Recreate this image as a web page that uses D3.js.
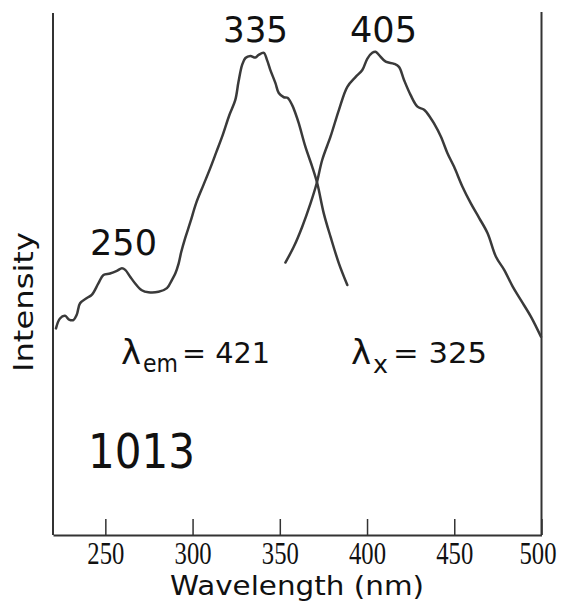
<!DOCTYPE html>
<html>
<head>
<meta charset="utf-8">
<script src="https://cdn.jsdelivr.net/npm/d3@7"></script>
<style>
  body { margin: 0; background: #fff; }
  svg { display: block; }
</style>
</head>
<body>
<div id="chart"></div>
<script>
// excitation spectrum (left curve), wavelength in nm and relative intensity
var exWave = [221.7, 224.0, 226.9, 229.2, 231.7, 233.6, 235.5, 239.4, 242.2, 246.0,
  248.9, 252.7, 256.6, 259.5, 261.4, 264.2, 267.1, 270.9, 274.7, 280.5,
  285.3, 288.2, 290.1, 292.0, 293.5, 295.8, 298.7, 302.1, 306.2, 310.2,
  313.6, 317.1, 321.1, 324.5, 326.3, 328.4, 330.3, 333.1, 336.0, 337.9,
  340.8, 342.7, 344.6, 347.5, 349.4, 352.3, 354.4, 357.1, 359.0, 360.9,
  364.7, 368.6, 371.5, 375.2, 379.1, 383.9, 388.7]
var exInt = [39.5, 41.4, 41.9, 41.2, 41.1, 42.1, 44.3, 45.3, 45.9, 48.1,
  49.7, 50.0, 50.5, 51.0, 50.7, 49.4, 48.1, 46.8, 46.4, 46.5,
  47.2, 48.8, 50.0, 51.9, 54.1, 56.8, 59.8, 63.5, 66.9, 70.2,
  73.2, 76.3, 80.3, 83.2, 86.6, 89.9, 91.2, 91.6, 91.3, 91.8,
  92.2, 90.8, 88.9, 86.4, 84.5, 83.7, 83.6, 82.2, 80.6, 78.7,
  74.2, 70.4, 67.2, 61.5, 57.0, 51.9, 47.8]

// emission spectrum (right curve)
var emWave = [353.2, 358.0, 362.8, 367.6, 371.1, 374.3, 379.1, 383.9, 388.7, 393.5,
  397.3, 400.2, 403.0, 404.9, 406.8, 410.7, 415.5, 418.3, 421.2, 425.0,
  428.9, 432.7, 436.5, 438.4, 442.3, 446.1, 449.9, 454.7, 459.5, 464.3,
  469.1, 473.9, 478.6, 483.5, 488.2, 494.0, 499.7]
var emInt = [52.1, 55.1, 58.9, 63.4, 67.2, 71.7, 76.2, 81.3, 85.7, 87.6,
  88.9, 91.1, 92.2, 92.4, 91.8, 90.5, 90.1, 89.5, 87.0, 84.1,
  81.9, 81.3, 79.7, 78.7, 76.2, 73.0, 70.4, 66.6, 63.4, 60.6,
  57.7, 53.2, 50.7, 47.5, 44.9, 41.7, 37.9]

var tickValues = [250, 300, 350, 400, 450, 500]

var width = 568
var height = 603

var x = d3.scaleLinear().domain([220, 500]).range([53, 541.5])
var y = d3.scaleLinear().domain([0, 100]).range([535, 12])

var svg = d3.select('#chart').append('svg')
  .attr('width', width)
  .attr('height', height)

var ink = '#333'
var sans = '"DejaVu Sans", Verdana, sans-serif'

// frame: left and right sides, bottom axis
svg.append('line')
  .attr('x1', x(220)).attr('x2', x(220))
  .attr('y1', y(0)).attr('y2', y(100) + 1)
  .attr('stroke', ink).attr('stroke-width', 2)
svg.append('line')
  .attr('x1', x(500)).attr('x2', x(500))
  .attr('y1', y(0)).attr('y2', y(100))
  .attr('stroke', ink).attr('stroke-width', 2)

var xAxis = d3.axisBottom(x)
  .tickValues(tickValues)
  .tickSizeInner(-16)
  .tickSizeOuter(0)
  .tickFormat(d3.format('d'))

var gx = svg.append('g')
  .attr('transform', 'translate(0,' + y(0) + ')')
  .call(xAxis)

gx.select('.domain').attr('stroke', ink).attr('stroke-width', 2)
gx.selectAll('.tick line').attr('stroke', ink).attr('stroke-width', 1.5)
gx.selectAll('.tick text')
  .attr('y', 29).attr('dy', null)
  .attr('x', function (d) { return d === 500 ? -4 : 0 })
  .attr('fill', '#111')
  .style('font-family', '"Liberation Serif", "Times New Roman", serif')
  .style('font-size', '31px')
  .attr('textLength', 37)
  .attr('lengthAdjust', 'spacingAndGlyphs')

// curves
var line = d3.line()
  .x(function (d) { return x(d[0]) })
  .y(function (d) { return y(d[1]) })
  .curve(d3.curveCatmullRom.alpha(0.5))

var exData = d3.zip(exWave, exInt)
var emData = d3.zip(emWave, emInt)

;[exData, emData].forEach(function (data) {
  svg.append('path')
    .datum(data)
    .attr('d', line)
    .attr('fill', 'none')
    .attr('stroke', '#3a3a3a')
    .attr('stroke-width', 2.5)
    .attr('stroke-linejoin', 'round')
    .attr('stroke-linecap', 'round')
})

// labels
function label(txt, px, py, size, len, anchor) {
  var t = svg.append('text')
    .attr('x', px).attr('y', py)
    .attr('fill', '#111')
    .style('font-family', sans)
    .style('font-size', size + 'px')
    .attr('text-anchor', anchor || 'start')
    .text(txt)
  if (len) t.attr('textLength', len).attr('lengthAdjust', 'spacingAndGlyphs')
  return t
}

label('335', 255.5, 42, 36, 65, 'middle')
label('405', 383.5, 42, 36, 67, 'middle')
label('250', 123.5, 255, 36, 67, 'middle')
label('1013', 88, 468, 48, 107)

label('λ', 121, 364, 34)
label('em', 143, 372, 24, 35)
label('= 421', 182, 363, 29, 88)

label('λ', 351, 364, 34)
label('x', 373, 373, 24, 15)
label('= 325', 393, 363, 29, 94)

label('Wavelength (nm)', 297, 595, 27, 254, 'middle')

svg.append('text')
  .attr('transform', 'translate(33,302) rotate(-90)')
  .attr('text-anchor', 'middle')
  .attr('fill', '#111')
  .style('font-family', sans)
  .style('font-size', '27px')
  .attr('textLength', 140)
  .attr('lengthAdjust', 'spacingAndGlyphs')
  .text('Intensity')
</script>
</body>
</html>
